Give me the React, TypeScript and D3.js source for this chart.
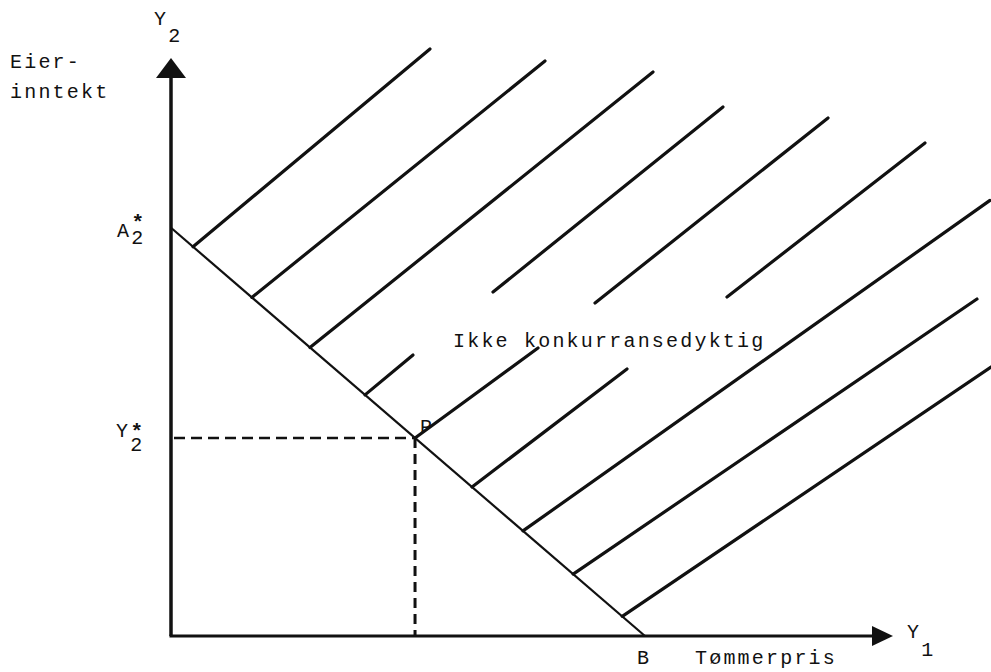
import React from "react";
import * as d3 from "d3";

// Schematic coordinates (Y1 = tømmerpris, Y2 = eierinntekt)
const axisExtent = [10, 8]; // arrow tips [Y1 max, Y2 max]
const budgetLine: [number, number][] = [[0, 5.65], [6.565, 0]]; // A2* -> B
const pointP: [number, number] = [3.38, 2.74];
// Hatch lines starting on the A2*-B line: start Y1 value, and end point
const hatchStartX = [0.305, 1.12, 1.925, 2.687, 3.38, 4.169, 4.875, 5.57, 6.25];
const hatchEnd: [number, number][] = [
  [3.587, 8.125], [5.18, 7.958], [6.676, 7.806], [3.352, 3.889], [5.083, 3.986],
  [6.316, 3.695], [11.343, 6.029], [11.163, 4.664], [11.357, 3.723],
];
// Free hatch segments (not touching the line)
const freeHatchStart: [number, number][] = [[4.46, 4.761], [5.873, 4.609], [7.701, 4.692]];
const freeHatchEnd: [number, number][] = [[7.645, 7.322], [9.1, 7.17], [10.443, 6.824]];

const W = 991, H = 672;
const x = d3.scaleLinear().domain([0, 10]).range([171, 893]);
const y = d3.scaleLinear().domain([0, 8]).range([636, 58]);

const budgetY = (v: number) => {
  const [[x0, y0], [x1, y1]] = budgetLine;
  return y0 + ((v - x0) * (y1 - y0)) / (x1 - x0);
};

const font = "'Liberation Mono', 'DejaVu Sans Mono', monospace";
const ink = "#111";

export default function App() {
  const line = d3.line<[number, number]>().x((d) => x(d[0])).y((d) => y(d[1]));
  const hatch: [number, number][][] = hatchStartX.map((sx, i) => [[sx, budgetY(sx)], hatchEnd[i]]);
  const free: [number, number][][] = freeHatchStart.map((s, i) => [s, freeHatchEnd[i]]);
  const ox = x(0), oy = y(0);
  const tx = x(axisExtent[0]), ty = y(axisExtent[1]);
  const txt = { fontFamily: font, fill: ink, fontSize: 20, letterSpacing: 2.2 } as const;

  return (
    <svg width={W} height={H} style={{ position: "absolute", left: 0, top: 0, background: "#fff" }}>
      {/* axes */}
      <line x1={ox} y1={oy} x2={ox} y2={ty + 14} stroke={ink} strokeWidth={3.5} />
      <path d={`M${ox},${ty} L${ox - 15},${ty + 20} L${ox + 15},${ty + 20} Z`} fill={ink} />
      <line x1={ox - 1.5} y1={oy} x2={tx - 15} y2={oy} stroke={ink} strokeWidth={3} />
      <path d={`M${tx},${oy} L${tx - 21},${oy - 10} L${tx - 21},${oy + 10} Z`} fill={ink} />

      {/* budget line A2*-B */}
      <path d={line(budgetLine) || ""} stroke={ink} strokeWidth={2.2} fill="none" />

      {/* hatch lines */}
      {hatch.map((seg, i) => (
        <path key={"h" + i} d={line(seg) || ""} stroke={ink} strokeWidth={3.2} strokeLinecap="round" fill="none" />
      ))}
      {free.map((seg, i) => (
        <path key={"f" + i} d={line(seg) || ""} stroke={ink} strokeWidth={3.2} strokeLinecap="round" fill="none" />
      ))}

      {/* dashed guides to P */}
      <line x1={ox + 3} y1={y(pointP[1])} x2={x(pointP[0])} y2={y(pointP[1])} stroke={ink} strokeWidth={2.6} strokeDasharray="11,6" />
      <line x1={x(pointP[0])} y1={y(pointP[1])} x2={x(pointP[0])} y2={oy} stroke={ink} strokeWidth={3} strokeDasharray="10,6" />

      {/* labels */}
      <text x={154} y={25} {...txt}>Y<tspan dy={17}>2</tspan></text>
      <text x={10} y={68} {...txt}>Eier-</text>
      <text x={10} y={98} {...txt}>inntekt</text>

      <text x={117} y={237} {...txt}>
        A<tspan dy={7}>2</tspan>
        <tspan dx={-14} dy={-15} fontSize={21} fontWeight="bold">*</tspan>
      </text>

      <text x={116} y={437} {...txt}>
        Y<tspan dy={14}>2</tspan>
        <tspan dx={-14} dy={-13} fontSize={21} fontWeight="bold">*</tspan>
      </text>

      <text x={x(pointP[0]) + 5} y={y(pointP[1]) - 5} {...txt}>P</text>
      <text x={453} y={347} {...txt}>Ikke konkurransedyktig</text>

      <text x={x(budgetLine[1][0]) - 8} y={664} {...txt}>B</text>
      <text x={695} y={664} {...txt}>Tømmerpris</text>
      <text x={907} y={638} {...txt}>Y<tspan dy={18}>1</tspan></text>
    </svg>
  );
}
